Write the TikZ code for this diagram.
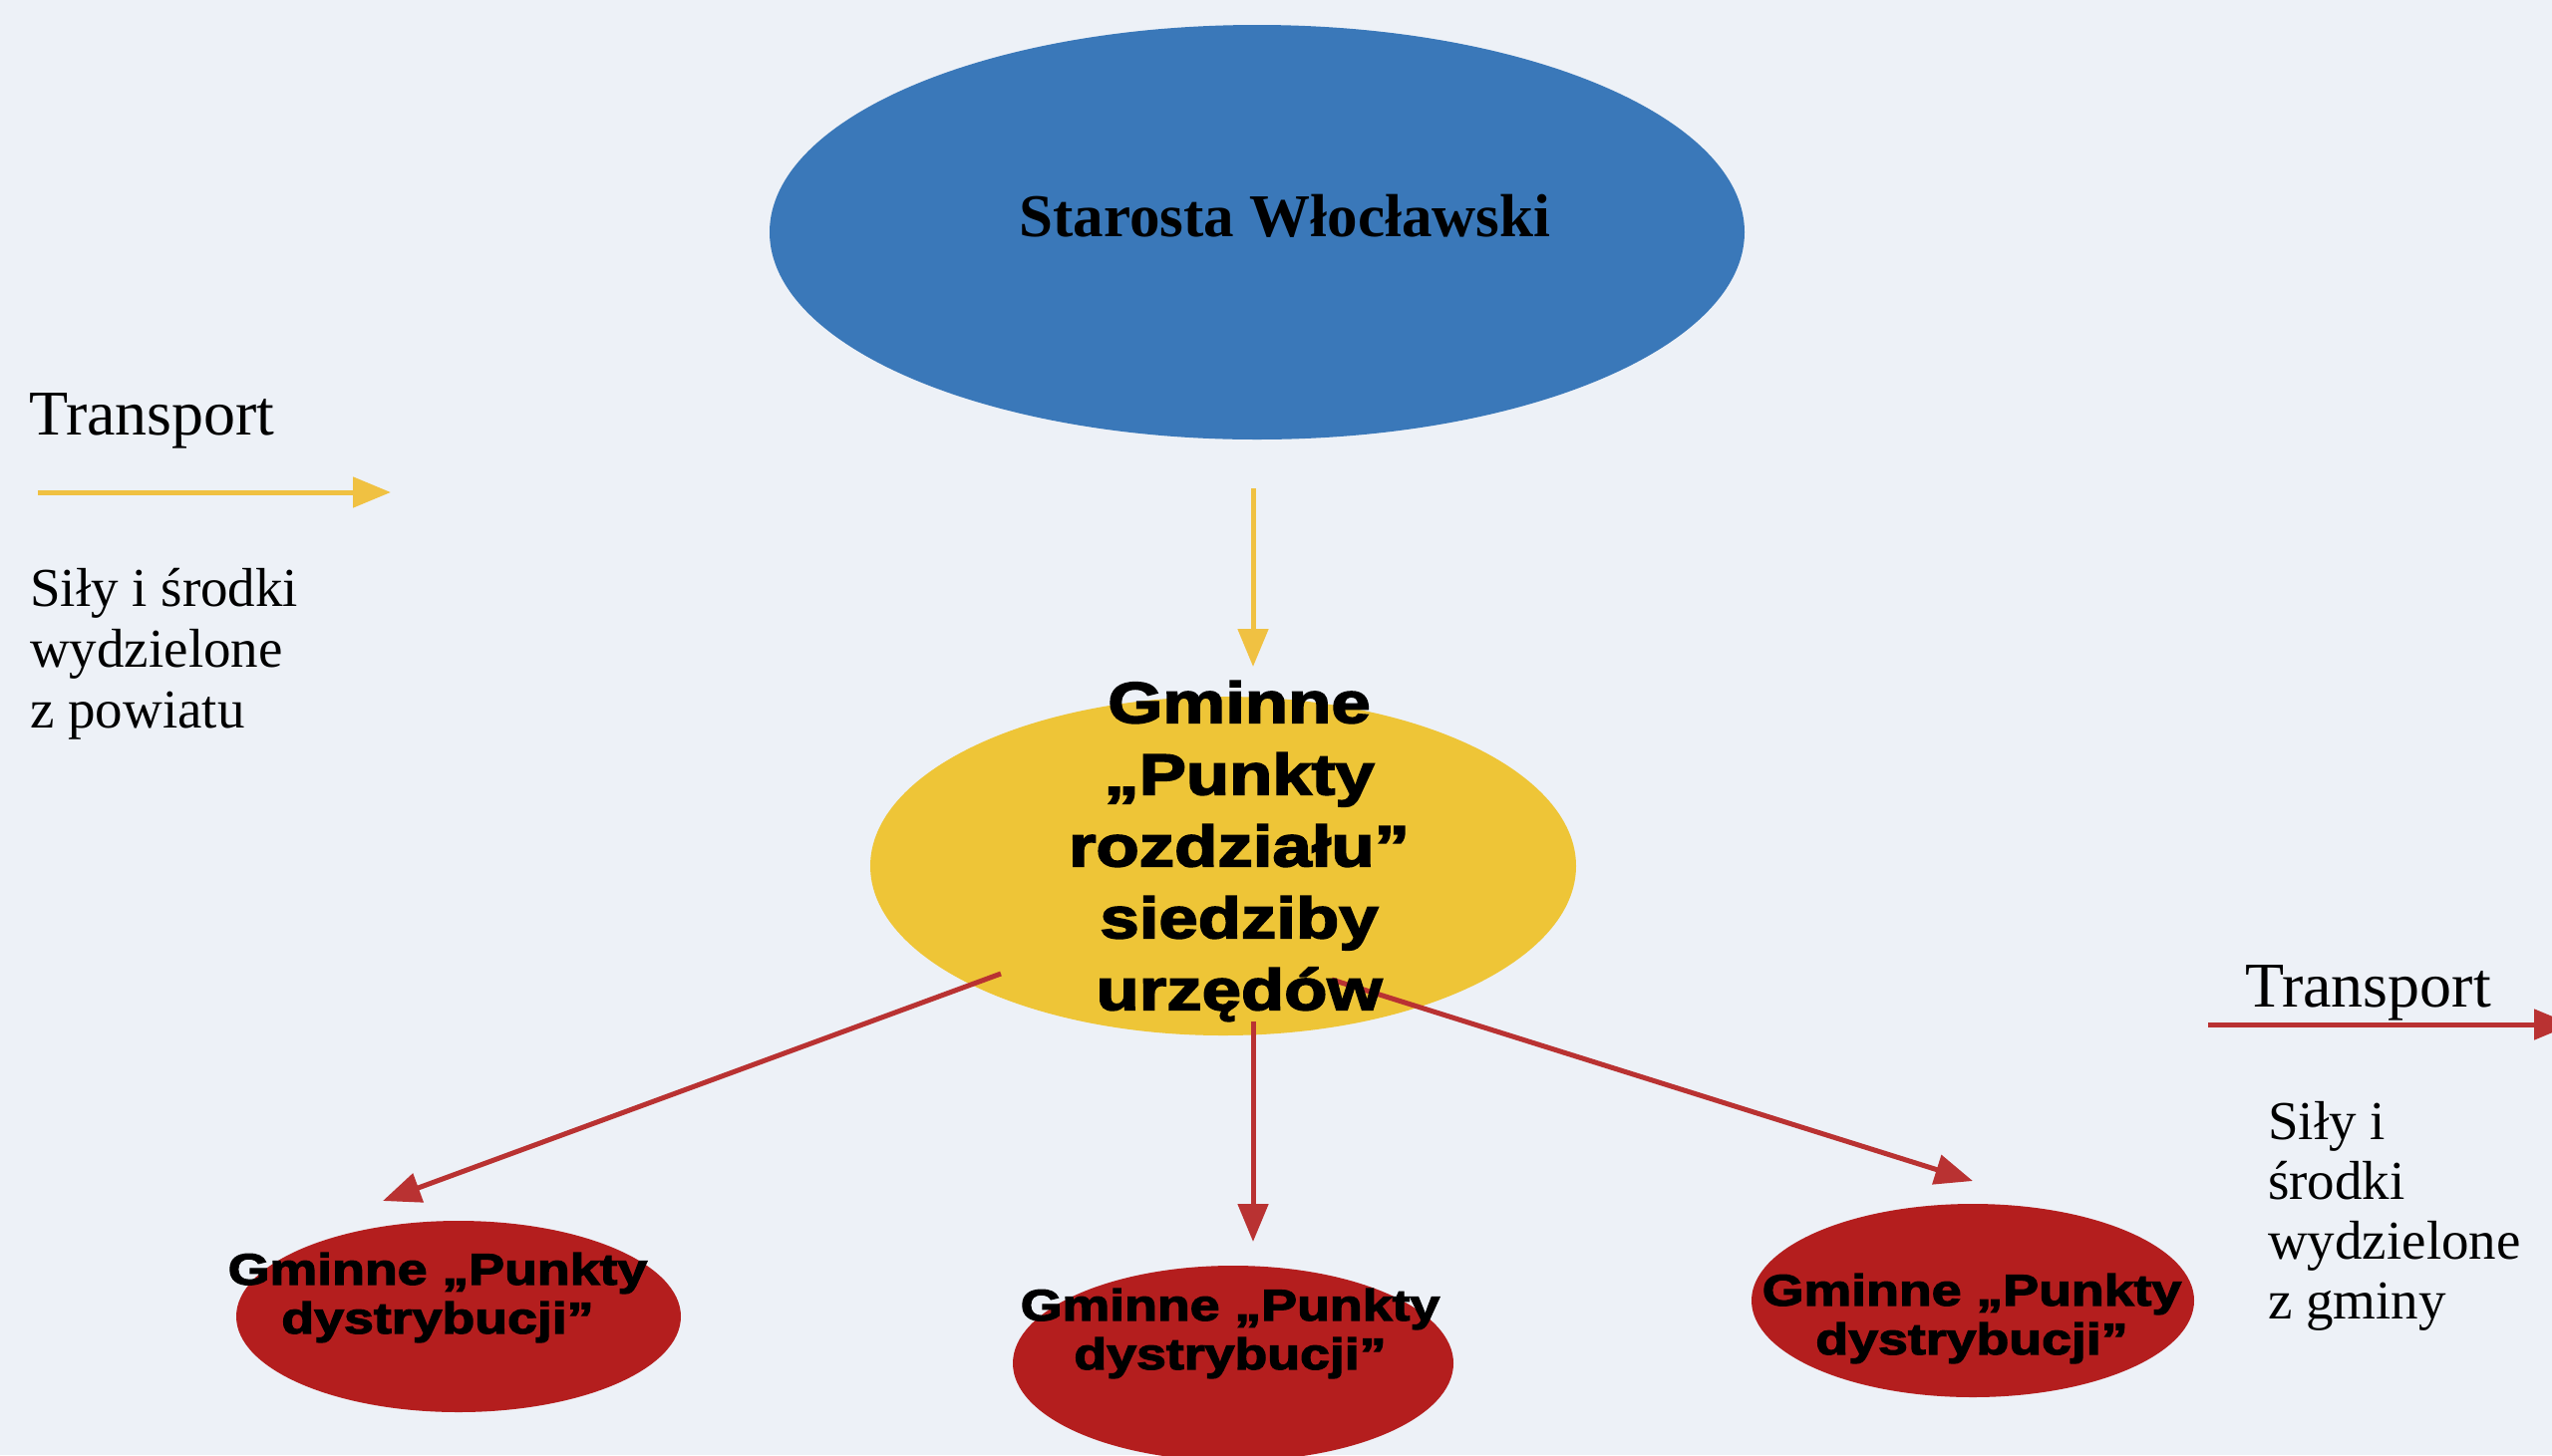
\documentclass[tikz,border=0pt]{standalone}
\usepackage{fontspec}
\setmainfont{Liberation Serif}
\newfontfamily\heavy[FakeStretch=1.22,FakeBold=3]{Liberation Sans Bold}
\usetikzlibrary{shapes.geometric,arrows.meta}
\definecolor{bg}{RGB}{237,241,247}
\definecolor{blueE}{RGB}{58,120,185}
\definecolor{yellowE}{RGB}{238,197,55}
\definecolor{redE}{RGB}{180,30,30}
\definecolor{yarrow}{RGB}{240,193,66}
\definecolor{rarrow}{RGB}{185,50,50}
\begin{document}
\begin{tikzpicture}[x=1pt,y=-1pt,
  oval/.style={ellipse, inner sep=0pt, draw=none},
  yarr/.style={draw=yarrow, line width=5pt, -{Triangle[length=38pt,width=30pt,fill=yarrow]}},
  rarr/.style={draw=rarrow, line width=5pt, -{Triangle[length=38pt,width=30pt,fill=rarrow]}},
  legend/.style={font=\fontsize{55}{61}\selectfont, align=left, inner sep=0pt, anchor=north west},
  title/.style={font=\fontsize{64}{70}\selectfont, inner sep=0pt, anchor=base west},
  bigtext/.style={font=\heavy\fontsize{58}{72}\selectfont, align=center, inner sep=0pt},
  smalltext/.style={font=\heavy\fontsize{44}{49}\selectfont, align=center, inner sep=0pt},
]
\useasboundingbox (0,0) rectangle (2560,1460);
\fill[bg] (0,0) rectangle (2560,1460);

% ellipses
\node[oval, fill=blueE, minimum width=978, minimum height=416] (starosta) at (1261,233) {};
\node[font=\bfseries\fontsize{61}{70}\selectfont, inner sep=0pt, anchor=base] (starostaT) at (1289,237) {Starosta Włocławski};

\node[oval, fill=yellowE, minimum width=708, minimum height=340] (punkty) at (1227,869) {};

\node[oval, fill=redE, minimum width=446, minimum height=192] (dl) at (460,1321) {};
\node[oval, fill=redE, minimum width=442, minimum height=196] (dm) at (1237,1368) {};
\node[oval, fill=redE, minimum width=444, minimum height=194] (dr) at (1979,1305) {};

% connector end points
\coordinate (ys) at (1257,490);
\coordinate (ye) at (1257,669);
\coordinate (rls) at (1004,977);
\coordinate (rle) at (384,1205);
\coordinate (rms) at (1257,1025);
\coordinate (rme) at (1257,1246);
\coordinate (rrs) at (1336,983);
\coordinate (rre) at (1979,1185);

\draw[yarr] (ys) -- (ye);
\draw[rarr] (rls) -- (rle);
\draw[rarr] (rms) -- (rme);
\draw[rarr] (rrs) -- (rre);

% texts in ellipses
\node[bigtext] (punktyT) at (1243,854) {Gminne\\„Punkty\\rozdziału”\\siedziby\\urzędów};
\node[smalltext] (dlT) at (439,1302) {Gminne „Punkty\\dystrybucji”};
\node[smalltext] (dmT) at (1234,1338) {Gminne „Punkty\\dystrybucji”};
\node[smalltext] (drT) at (1978,1323) {Gminne „Punkty\\dystrybucji”};

% legends
\node[title] (tl) at (29,436) {Transport};
\coordinate (las) at (38,494);
\coordinate (lae) at (392,494);
\draw[yarr] (las) -- (lae);
\node[legend] (ll) at (30,570) {Siły i środki\\wydzielone\\z powiatu};

\node[title] (tr) at (2252,1010) {Transport};
\coordinate (ras) at (2215,1028);
\coordinate (rae) at (2580,1028);
\draw[rarr] (ras) -- (rae);
\node[legend, font=\fontsize{55}{60}\selectfont] (lr) at (2275,1105) {Siły i\\środki\\wydzielone\\z gminy};
\end{tikzpicture}
\end{document}
